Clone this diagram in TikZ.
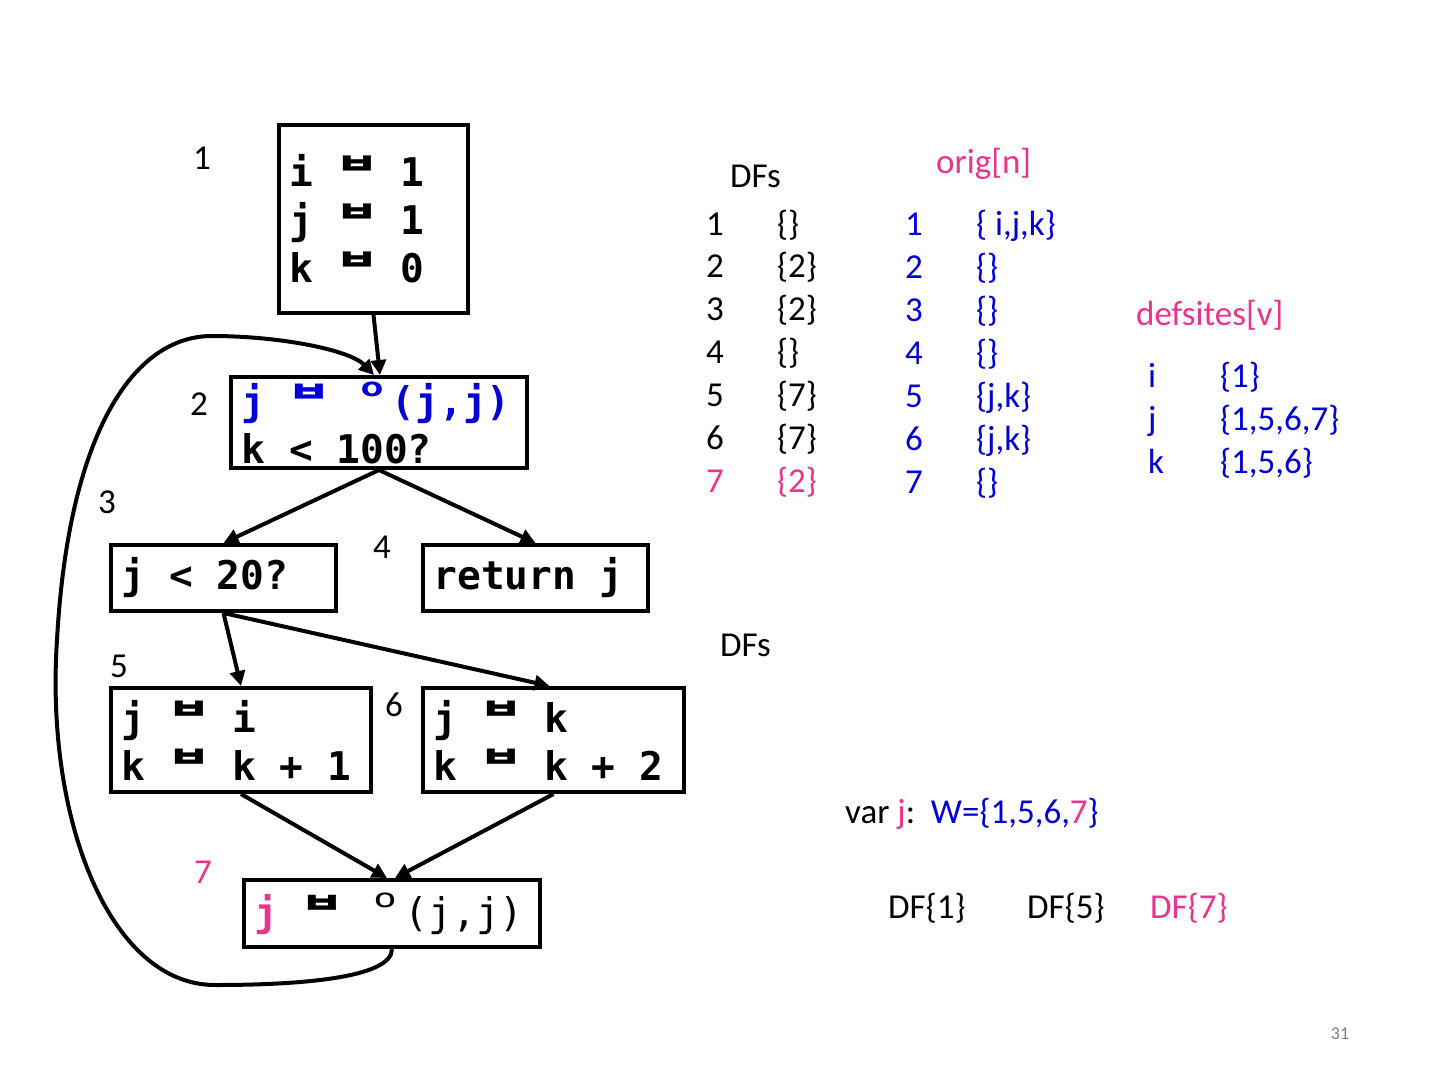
\documentclass[tikz,border=0pt]{standalone}
\usepackage{fontspec}
\usepackage{graphicx}
\setmainfont{Carlito}
\newfontfamily\monof{DejaVu Sans Mono}[BoldFont={DejaVu Sans Mono Bold}]
\newfontfamily\krf{Noto Sans CJK KR}[FakeBold=0.8]
\usetikzlibrary{arrows.meta}
\definecolor{pk}{RGB}{234,51,140}
\definecolor{bl}{RGB}{0,0,215}
\newcommand\asg{\makebox[39.5pt]{\raisebox{13pt}{\scalebox{1.15}[0.7]{\krf\bfseries\fontsize{40}{40}\selectfont ㅂ}}}}
\newcommand\phg{\makebox[39.5pt]{\raisebox{19pt}{\scalebox{1.5}[1]{\fontsize{26}{26}\selectfont o}}}}
\newcommand\monosize{\fontsize{39.5}{48}\selectfont}
\tikzset{
  cfgbox/.style={draw, line width=4pt, anchor=north west, inner sep=0pt, inner xsep=10.5pt,
    align=left, font=\monof\bfseries\monosize,
    execute at begin node={\spaceskip=23.78pt\relax}},
  lab/.style={anchor=base, inner sep=0pt, font=\fontsize{35}{42}\selectfont},
  txt/.style={anchor=base west, inner sep=0pt, font=\fontsize{35}{42}\selectfont},
  conn/.style={line width=4pt, -{Triangle[length=15pt,width=15pt]}},
}
\begin{document}
\begin{tikzpicture}[x=1pt,y=-1pt]
\useasboundingbox (0,0) rectangle (1440,1080);
% boxes
\node[cfgbox, minimum width=189pt, minimum height=188pt, text width=168pt] (b1) at (277,123)
  {i \asg{} 1\\j \asg{} 1\\k \asg{} 0};
\node[cfgbox, minimum width=296pt, minimum height=91pt, text width=275pt] (b2) at (229,375)
  {{\color{bl}j \asg{} \phg(j,j)}\\k < 100?};
\node[cfgbox, minimum width=225pt, minimum height=66pt, text width=204pt] (b3) at (109,543)
  {j < 20?};
\node[cfgbox, minimum width=225pt, minimum height=66pt, text width=204pt] (b4) at (421,543)
  {return j};
\node[cfgbox, minimum width=260pt, minimum height=104pt, text width=239pt] (b5) at (109,686)
  {j \asg{} i\\k \asg{} k + 1};
\node[cfgbox, minimum width=261pt, minimum height=104pt, text width=240pt] (b6) at (421,686)
  {j \asg{} k\\k \asg{} k + 2};
\node[cfgbox, minimum width=296pt, minimum height=67pt, text width=275pt, inner xsep=8pt] (b7) at (242,878)
  {{\color{pk}j}\mdseries{} \asg{} \phg(j,j)};
% block labels
\node[lab] (l1) at (202,169) {1};
\node[lab] (l2) at (199,415) {2};
\node[lab] (l3) at (107,513) {3};
\node[lab] (l4) at (382,558) {4};
\node[lab] (l5) at (119,677) {5};
\node[lab] (l6) at (394,716) {6};
\node[lab, text=pk] (l7) at (203,883) {7};
% edges
\draw[conn] (b1.south) -- ([xshift=1pt]b2.north);
\draw[conn] (b2.south) -- (b3.north);
\draw[conn] (b2.south) -- (b4.north);
\draw[conn] (b3.south) -- (b5.north);
\draw[conn] (b3.south) -- ([xshift=-4pt]b6.north);
\draw[conn] (b5.south) -- ([xshift=-5pt]b7.north);
\draw[conn] (b6.south) -- ([xshift=3pt]b7.north);
\coordinate (c1) at (215,985);
\coordinate (c2) at (57,640);
\coordinate (c3) at (212,336);
\draw[conn] (b7.south) .. controls (392,978) and (300,985) .. (c1)
  .. controls (110,985) and (45,820) .. (c2)
  .. controls (68,440) and (130,336) .. (c3)
  .. controls (280,336) and (350,350) .. ([xshift=-5pt]b2.north);
% DFs table
\node[txt] (dfh) at (730,187) {DFs};
\foreach \n/\s/\y in {1/{\{\}}/235, 2/{\{2\}}/277, 3/{\{2\}}/320, 4/{\{\}}/363, 5/{\{7\}}/406, 6/{\{7\}}/449}{
  \node[txt] (dn\n) at (706,\y) {\n};
  \node[txt] (ds\n) at (777,\y) {\s};
}
\node[txt, text=pk] (dn7) at (706,492) {7};
\node[txt, text=pk] (ds7) at (777,492) {\{2\}};
% orig table
\node[txt, text=pk] (orh) at (936,173) {orig[n]};
\foreach \n/\s/\y in {1/{\{ i,j,k\}}/235, 2/{\{\}}/278, 3/{\{\}}/321, 4/{\{\}}/364, 5/{\{j,k\}}/407, 6/{\{j,k\}}/450, 7/{\{\}}/493}{
  \node[txt, text=bl] (on\n) at (905,\y) {\n};
  \node[txt, text=bl] (os\n) at (976,\y) {\s};
}
% defsites
\node[txt, text=pk] (dsh) at (1136,325) {defsites[v]};
\node[txt, text=bl] (dvi) at (1148,387) {i};
\node[txt, text=bl] (dsi) at (1220,387) {\{1\}};
\node[txt, text=bl] (dvj) at (1148,430) {j};
\node[txt, text=bl] (dsj) at (1220,430) {\{1,5,6,7\}};
\node[txt, text=bl] (dvk) at (1148,473) {k};
\node[txt, text=bl] (dsk) at (1220,473) {\{1,5,6\}};
% lower texts
\node[txt] (dfh2) at (720,656) {DFs};
\node[txt] (varj) at (845,823) {var {\color{pk}j}:\ \ {\color{bl}W=\{1,5,6,}{\color{pk}7}{\color{bl}\}}};
\node[txt] (df1) at (888,918) {DF\{1\}};
\node[txt] (df5) at (1027,918) {DF\{5\}};
\node[txt, text=pk] (df7) at (1150,918) {DF\{7\}};
\node[anchor=base, inner sep=0pt, text=black!50, font=\fontsize{18}{20}\selectfont] (pg) at (1340,1039) {31};
\end{tikzpicture}
\end{document}
